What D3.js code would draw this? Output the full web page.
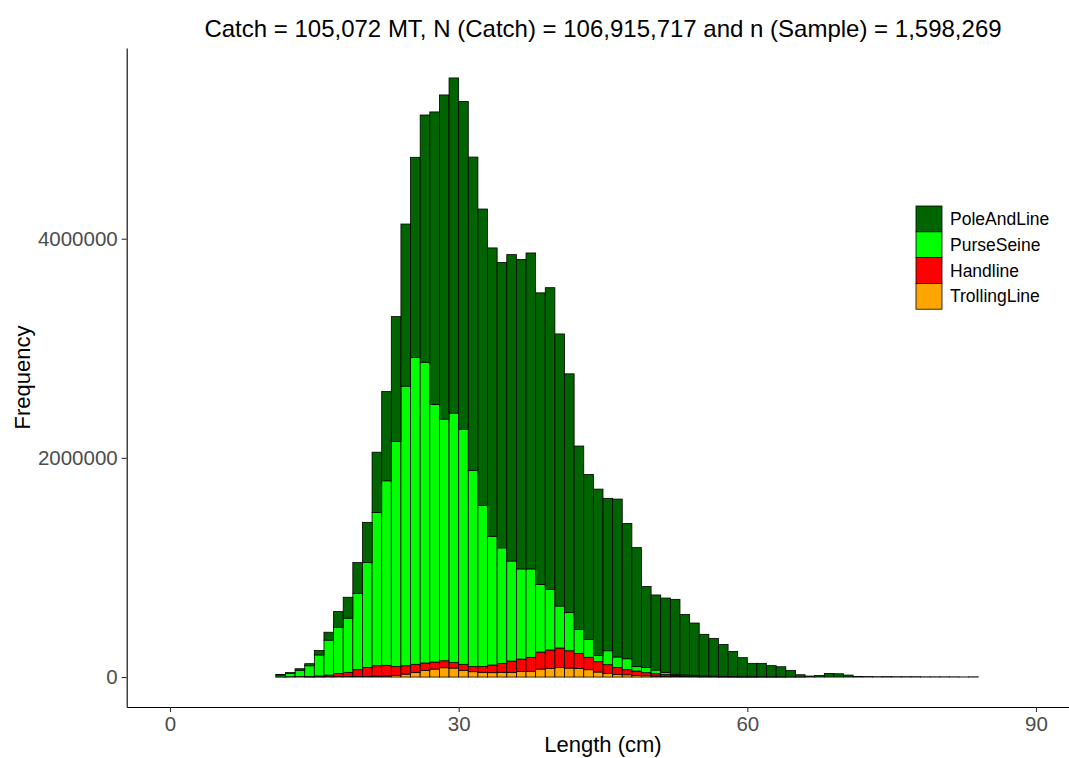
<!DOCTYPE html>
<html>
<head>
<meta charset="utf-8">
<script src="https://cdn.jsdelivr.net/npm/d3@7"></script>
<style>
  html, body { margin: 0; padding: 0; background: #fff; }
  svg { display: block; font-family: "Liberation Sans", Arial, Helvetica, sans-serif; }
</style>
</head>
<body>
<svg id="chart" width="1069" height="758"></svg>
<script>
// Length bins (cm): each bar covers [start, start + 1)
const binStart = d3.range(11, 84);

// Fish counts per 1 cm length class, by gear
const trollingLine = [
  0, 0, 0, 1000, 2000, 3000, 4000, 5000, 6000, 6000,
  8000, 9000, 15000, 27000, 43000, 61000, 73000, 85000, 82000, 61000,
  49000, 43000, 40000, 43000, 43000, 52000, 52000, 73000, 79000, 88000,
  82000, 79000, 67000, 46000, 33000, 24000, 21000, 15000, 12000, 9000,
  7000, 5000, 4000, 3000, 2000, 2000, 1000, 1000, 1000, 1000,
  0, 0, 0, 0, 0, 0, 0, 0, 0, 0,
  0, 0, 0, 0, 0, 0, 0, 0, 0, 0,
  0, 0, 0
];
const handline = [
  2000, 3000, 4000, 5000, 8000, 15000, 29000, 38000, 61000, 82000,
  95000, 98000, 82000, 76000, 73000, 67000, 64000, 64000, 52000, 55000,
  48000, 54000, 70000, 82000, 103000, 112000, 128000, 155000, 168000, 177000,
  158000, 137000, 113000, 94000, 80000, 64000, 46000, 40000, 28000, 21000,
  15000, 9000, 6000, 4000, 3000, 2000, 2000, 1000, 1000, 1000,
  1000, 1000, 1000, 0, 0, 0, 0, 0, 0, 0,
  0, 0, 0, 0, 0, 0, 0, 0, 0, 0,
  0, 0, 0
];
const purseSeine = [
  16000, 32000, 58000, 97000, 192000, 319000, 422000, 495000, 697000, 957000,
  1400000, 1684000, 2053000, 2552000, 2800000, 2745000, 2350000, 2204000, 2274000, 2146000,
  1789000, 1468000, 1175000, 1054000, 913000, 823000, 807000, 617000, 554000, 383000,
  348000, 218000, 163000, 57000, 127000, 95000, 100000, 40000, 48000, 34000,
  21000, 11000, 10000, 6000, 5000, 4000, 3000, 3000, 2000, 2000,
  2000, 1000, 1000, 1000, 1000, 0, 0, 0, 0, 0,
  0, 0, 0, 0, 0, 0, 0, 0, 0, 0,
  0, 0, 0
];
const poleAndLine = [
  5000, 5000, 14000, 19000, 40000, 72000, 142000, 190000, 281000, 367000,
  549000, 814000, 1139000, 1479000, 1827000, 2256000, 2670000, 2959000, 3059000, 2991000,
  2859000, 2706000, 2631000, 2604000, 2796000, 2824000, 2883000, 2661000, 2752000, 2483000,
  2179000, 1674000, 1506000, 1518000, 1391000, 1441000, 1235000, 1086000, 739000, 685000,
  678000, 684000, 552000, 480000, 380000, 345000, 292000, 229000, 173000, 121000,
  122000, 102000, 92000, 60000, 20000, 9000, 15000, 33000, 30000, 18000,
  6000, 4000, 3000, 4000, 3000, 3000, 3000, 2000, 2000, 2000,
  2000, 1000, 2000
];

const gears = ["TrollingLine", "Handline", "PurseSeine", "PoleAndLine"];
const gearColors = ["#FFA500", "#FF0000", "#00FF00", "#006400"];
const legendOrder = ["PoleAndLine", "PurseSeine", "Handline", "TrollingLine"];

const xTicks = [0, 30, 60, 90];
const yTicks = [0, 2000000, 4000000];

const titleText = "Catch = 105,072 MT, N (Catch) = 106,915,717 and n (Sample) = 1,598,269";
const xTitle = "Length (cm)";
const yTitle = "Frequency";

// ---- layout ----
const svg = d3.select("#chart");
const panel = { left: 126.7, right: 1079.3, top: 48, bottom: 707 };

const rows = binStart.map((s, i) => ({
  start: s,
  TrollingLine: trollingLine[i],
  Handline: handline[i],
  PurseSeine: purseSeine[i],
  PoleAndLine: poleAndLine[i]
}));

const stacked = d3.stack().keys(gears)(rows);
const maxTotal = d3.max(stacked[stacked.length - 1], d => d[1]);

// 5% padding on both axes
const xLim = [0, 90];
const xPad = (xLim[1] - xLim[0]) * 0.05;
const x = d3.scaleLinear()
  .domain([xLim[0] - xPad, xLim[1] + xPad])
  .range([panel.left, panel.right]);

const yPad = maxTotal * 0.05;
const y = d3.scaleLinear()
  .domain([-yPad, maxTotal + yPad])
  .range([panel.bottom, panel.top]);

const color = d3.scaleOrdinal().domain(gears).range(gearColors);

// ---- bars ----
const barLayer = svg.append("g");
barLayer.selectAll("g.series")
  .data(stacked)
  .join("g")
  .attr("class", "series")
  .attr("fill", d => color(d.key))
  .selectAll("rect")
  .data(d => d)
  .join("rect")
  .attr("x", d => x(d.data.start))
  .attr("width", d => x(d.data.start + 1) - x(d.data.start))
  .attr("y", d => y(d[1]))
  .attr("height", d => Math.max(0, y(d[0]) - y(d[1])))
  .attr("stroke", "#000")
  .attr("stroke-width", 0.8);

// ---- axes ----
const tickColor = "#333333";
const labelColor = "#4D4D4D";

const xAxis = svg.append("g")
  .attr("transform", `translate(0,${panel.bottom})`)
  .call(d3.axisBottom(x).tickValues(xTicks).tickSizeInner(5).tickSizeOuter(0)
    .tickPadding(4).tickFormat(d3.format("d")));
xAxis.select(".domain").attr("stroke", "#000").attr("stroke-width", 1.1);
xAxis.selectAll(".tick line").attr("stroke", tickColor).attr("stroke-width", 1.1);
xAxis.selectAll(".tick text")
  .attr("fill", labelColor)
  .style("font-size", "20.5px")
  .style("font-family", "Liberation Sans, Arial, sans-serif");

const yAxis = svg.append("g")
  .attr("transform", `translate(${panel.left},0)`)
  .call(d3.axisLeft(y).tickValues(yTicks).tickSizeInner(5).tickSizeOuter(0)
    .tickPadding(4).tickFormat(d3.format("d")));
yAxis.select(".domain").attr("stroke", "#000").attr("stroke-width", 1.1);
yAxis.selectAll(".tick line").attr("stroke", tickColor).attr("stroke-width", 1.1);
yAxis.selectAll(".tick text")
  .attr("fill", labelColor)
  .style("font-size", "20.5px")
  .style("font-family", "Liberation Sans, Arial, sans-serif");

// ---- titles ----
const midX = (panel.left + panel.right) / 2;
svg.append("text")
  .attr("x", midX)
  .attr("y", 37)
  .attr("text-anchor", "middle")
  .style("font-size", "24px")
  .attr("fill", "#000")
  .text(titleText);

svg.append("text")
  .attr("x", midX)
  .attr("y", 752)
  .attr("text-anchor", "middle")
  .style("font-size", "22px")
  .attr("fill", "#000")
  .text(xTitle);

svg.append("text")
  .attr("transform", `translate(29.5,${(panel.top + panel.bottom) / 2}) rotate(-90)`)
  .attr("text-anchor", "middle")
  .style("font-size", "22px")
  .attr("fill", "#000")
  .text(yTitle);

// ---- legend ----
const legend = svg.append("g").attr("transform", "translate(916,206)");
const keySize = 25.8;
const item = legend.selectAll("g")
  .data(legendOrder)
  .join("g")
  .attr("transform", (d, i) => `translate(0,${i * keySize})`);
item.append("rect")
  .attr("width", 26)
  .attr("height", keySize)
  .attr("fill", d => color(d))
  .attr("stroke", "#000")
  .attr("stroke-width", 0.8);
item.append("text")
  .attr("x", 34)
  .attr("y", keySize / 2)
  .attr("dy", "0.35em")
  .style("font-size", "17.5px")
  .attr("fill", "#000")
  .text(d => d);
</script>
</body>
</html>
